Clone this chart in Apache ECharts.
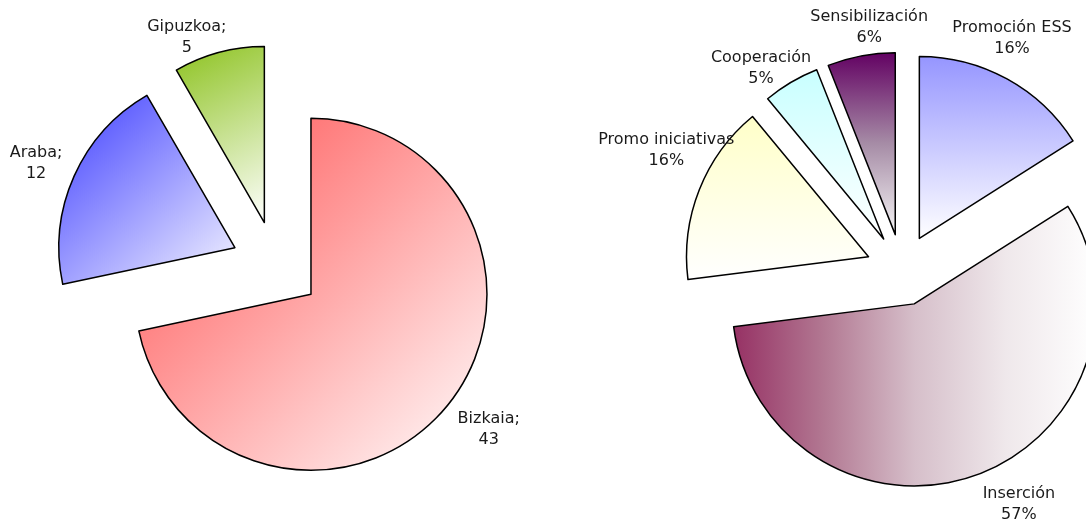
<!DOCTYPE html>
<html>
<head>
<meta charset="utf-8">
<script src="https://cdn.jsdelivr.net/npm/echarts@6/dist/echarts.min.js"></script>
<style>
html, body { margin: 0; padding: 0; background: #ffffff; }
#chart { width: 1086px; height: 525px; }
</style>
</head>
<body>
<div id="chart"></div>
<script>
// ---- data ----
const provincias = ['Bizkaia', 'Araba', 'Gipuzkoa'];
const provinciaValores = [43, 12, 5];
const areas = ['Promoción ESS', 'Inserción', 'Promo iniciativas', 'Cooperación', 'Sensibilización'];
const areaPorcentajes = [16, 57, 16, 5, 6];

// ---- layout / style ----
const LEFT = { cx: 276, cy: 266, r: 176, offset: 45 };
const RIGHT = { cx: 902, cy: 270, r: 182, offset: 36 };
// label nudges relative to the outer-arc midpoint of each (exploded) slice
const LEFT_NUDGE = [[41, 24], [-38, -13], [-32, -15]];
const RIGHT_NUDGE = [[5, -41], [43, 29], [-33, -39], [-30, -14], [8, -29]];

function grad(x2, y2, stops) {
  return { type: 'linear', x: 0, y: 0, x2: x2, y2: y2,
    colorStops: stops.map((c, i) => ({ offset: i / (stops.length - 1), color: c })) };
}
const leftFills = [
  grad(1, 1, ['#ff4d4d', '#ffffff']),
  grad(1, 1, ['#3d3dff', '#f6f6ff']),
  grad(1, 1, ['#8cc21e', '#ffffff'])
];
const rightFills = [
  grad(0, 1, ['#9595ff', '#ffffff']),
  grad(1, 0, ['#963164', '#b27892', '#d6bfca', '#efe8eb', '#ffffff']),
  grad(0, 1, ['#ffffc8', '#ffffff']),
  grad(0, 1, ['#c8ffff', '#ffffff']),
  grad(0, 1, ['#620062', '#a68ca6', '#f6f6f6'])
];

function midDirs(values) {
  const total = values.reduce((a, b) => a + b, 0);
  let acc = 0;
  return values.map(v => {
    const mid = (acc + v / 2) / total * 2 * Math.PI;
    acc += v;
    return [Math.sin(mid), -Math.cos(mid)];
  });
}

// vertical part of the nudge -> radial label distance; horizontal rest -> asymmetric padding
function buildData(names, values, fills, nudges) {
  const dirs = midDirs(values);
  return names.map((n, i) => {
    const d = dirs[i];
    const len = Math.max(0, nudges[i][1] / d[1]);
    const sx = nudges[i][0] - d[0] * len;
    return {
      name: n,
      value: values[i],
      selected: true,
      itemStyle: { color: fills[i] },
      label: { padding: [0, sx < 0 ? -2 * sx : 0, 0, sx > 0 ? 2 * sx : 0] },
      labelLine: { length: len, length2: 0 },
      select: { itemStyle: { color: fills[i], borderColor: '#000', borderWidth: 1.5 } }
    };
  });
}

const labelStyle = {
  show: true,
  position: 'outside',
  color: '#1a1a1a',
  fontFamily: 'DejaVu Sans',
  fontSize: 16,
  lineHeight: 21,
  distanceToLabelLine: 0
};

function pieSeries(geo, names, values, fills, nudges, fmt) {
  return {
    type: 'pie',
    center: [geo.cx, geo.cy],
    radius: [0, geo.r],
    startAngle: 90,
    clockwise: true,
    selectedMode: 'multiple',
    selectedOffset: geo.offset,
    avoidLabelOverlap: false,
    animation: false,
    emphasis: { disabled: true },
    itemStyle: { borderColor: '#000', borderWidth: 1.5 },
    label: Object.assign({}, labelStyle, { formatter: fmt }),
    labelLine: { show: false, length: 0, length2: 0 },
    labelLayout: function () { return { align: 'center', verticalAlign: 'middle' }; },
    data: buildData(names, values, fills, nudges)
  };
}

const chart = echarts.init(document.getElementById('chart'), null, { renderer: 'canvas' });
chart.setOption({
  animation: false,
  backgroundColor: '#ffffff',
  series: [
    pieSeries(LEFT, provincias, provinciaValores, leftFills, LEFT_NUDGE, '{b};\n{c}'),
    pieSeries(RIGHT, areas, areaPorcentajes, rightFills, RIGHT_NUDGE, '{b}\n{c}%')
  ]
});
</script>
</body>
</html>
